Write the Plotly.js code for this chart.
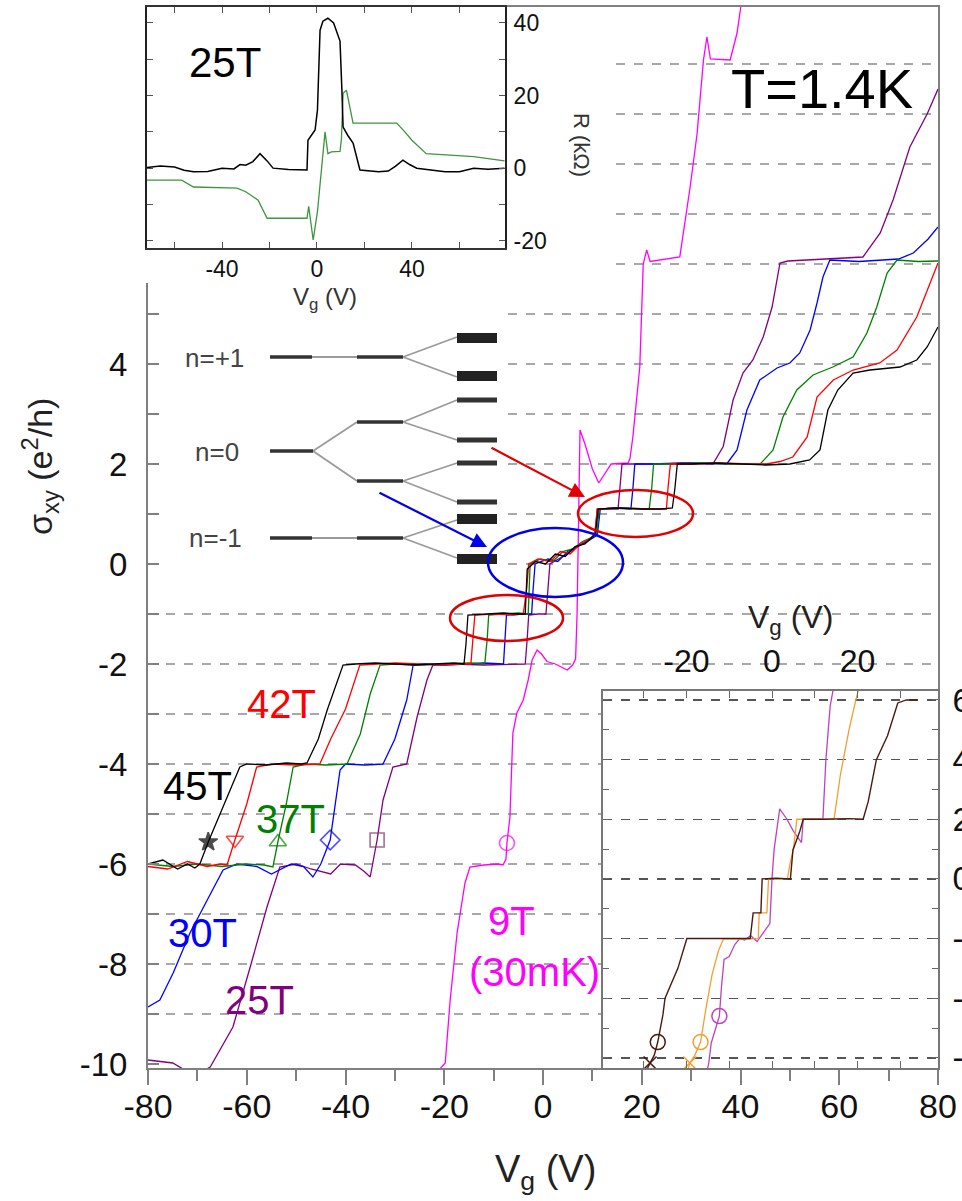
<!DOCTYPE html>
<html><head><meta charset="utf-8">
<script src="https://cdn.plot.ly/plotly-3.0.1.min.js"></script>
<style>html,body{margin:0;padding:0;background:#fff}</style>
</head><body><div id="chart" style="width:962px;height:1201px"></div>
<script>
// ---------------- main panel data: sigma_xy (e^2/h) vs Vg (V) ----------------
const v45 = [-80,-77,-74,-72,-70.5,-69.5,-67.8,-65,-63,-61.4,-60,-56,-52,-49,-47.8,-45.5,-43.7,-42,-40.5,-38,-34,-30,-26,-22,-18,-16,-15.6,-15.2,-12,-8,-5,-3.6,-3.2,-1.5,0.5,2.5,4.5,6.5,8.5,10.0,10.6,11.2,15,20,24,26.2,26.7,27.2,30,35,40,45,50,54,56.1,57.7,59.7,62.8,66.2,70,72.3,75.7,77.8,80];
const s45 = [-6.0,-5.92,-6.1,-6.0,-6.08,-6.0,-5.56,-4.9,-4.4,-4.06,-4.0,-4.02,-3.98,-4.0,-3.98,-3.5,-2.92,-2.45,-2.02,-2.0,-1.98,-2.0,-2.02,-2.0,-1.98,-2.0,-1.6,-1.02,-1.0,-0.98,-1.0,-1.0,-0.1,0.05,0.0,0.2,0.15,0.35,0.4,0.55,0.6,1.1,1.12,1.1,1.1,1.12,1.5,2.0,2.0,2.02,2.0,1.98,2.0,2.08,2.28,3.08,3.48,3.82,3.88,3.92,3.94,4.08,4.34,4.74];
const v42 = [-80,-76,-72,-68,-65.5,-64,-62.4,-60,-58,-55,-50,-46,-45.2,-43,-40,-37.1,-34,-30,-25,-20,-16,-14.6,-14.2,-13.8,-10,-6,-4,-3.3,-2.9,-1,1.5,3.5,5.5,7.5,9.5,10.5,11.0,16,21,25,25.3,25.8,30,36,42,45.3,48,50.6,53.5,55.5,58.8,62.8,68.2,71.7,75.7,78.4,80];
const s42 = [-6.05,-6.1,-5.95,-6.05,-6.0,-6.02,-5.52,-4.8,-4.06,-4.0,-4.02,-4.0,-4.0,-3.5,-2.9,-2.02,-2.0,-1.98,-2.0,-2.02,-2.0,-2.0,-1.5,-1.02,-1.0,-1.02,-1.0,-0.5,0.0,0.1,0.05,0.25,0.2,0.4,0.5,0.6,1.1,1.12,1.1,1.1,1.5,2.0,2.0,2.02,2.0,2.0,2.05,2.14,2.54,3.34,3.68,3.88,4.02,4.28,4.94,5.62,6.02];
const v37 = [-80,-75,-70,-65,-60,-56.5,-54.7,-53.7,-52,-50.6,-48,-44,-39.7,-37,-35,-33,-30,-25,-20,-15,-11.8,-11.3,-11.0,-8,-5,-3.0,-2.6,-0.5,2,4,6,8,10.2,10.9,11.4,15,19,21.5,22,22.4,26,32,38,44,46.6,48.6,51.4,54.7,58.7,62.8,65.6,67.6,69.7,71.7,76,80];
const s37 = [-6.0,-6.05,-6.0,-6.05,-6.0,-6.02,-6.06,-5.56,-4.8,-4.06,-4.0,-4.02,-4.0,-3.4,-2.6,-2.02,-2.0,-2.02,-2.0,-1.98,-2.0,-1.5,-1.02,-1.0,-0.98,-1.0,0.0,0.1,0.05,0.25,0.3,0.45,0.55,0.62,1.1,1.12,1.1,1.1,1.5,2.0,2.0,2.02,2.0,2.0,2.28,2.94,3.48,3.78,3.94,4.14,4.62,5.14,5.82,6.08,6.05,6.06];
const v30 = [-80,-77.6,-74.9,-71.5,-68,-64.8,-62,-58,-55,-53,-51,-48.5,-46.6,-45,-43.1,-41.1,-40,-36,-32.4,-30,-27.6,-26.3,-24,-20,-16,-12,-8.0,-7.7,-7.4,-4,-2.3,-2.0,-1.6,1,3,5,7,9,11,11.6,14,17.8,18.2,18.6,24,30,37.2,39.3,41.3,43.9,47.4,50,52,54.1,55.5,56.7,58.1,64,72,75,78,80];
const s30 = [-8.86,-8.72,-8.18,-7.38,-6.72,-6.12,-6.0,-6.05,-6.2,-6.1,-6.0,-6.05,-6.26,-6.0,-5.52,-4.12,-4.0,-4.02,-4.0,-3.5,-2.72,-2.02,-2.0,-2.02,-2.0,-1.98,-2.0,-1.5,-1.02,-1.0,-1.0,-0.5,0.0,0.1,0.05,0.25,0.35,0.45,0.58,1.1,1.12,1.1,1.5,2.0,2.0,2.02,2.0,2.28,3.08,3.68,3.92,4.02,4.22,4.68,5.22,5.74,6.08,6.05,6.1,6.22,6.5,6.74];
const v25 = [-80,-75,-72.9,-69,-67.4,-62.8,-59.3,-55.9,-53.3,-50,-47,-43,-41,-38,-36.2,-35,-33.6,-32.4,-30.4,-27.6,-25.5,-23.5,-22.3,-18,-12,-6,-3.6,-3.2,-2.9,-1,0.6,1.0,1.4,4,7,9.5,10.5,11,15.2,15.6,16,22,28,34.4,36.5,38.5,40.5,42.5,44.6,46.4,48,49.6,56,64.8,68.3,70.9,74.3,77.8,80];
const s25 = [-9.92,-9.98,-10.1,-10.15,-10.06,-9.26,-8.06,-6.86,-6.06,-6.0,-6.1,-6.2,-6.0,-6.02,-6.15,-6.26,-5.52,-4.72,-4.06,-4.0,-3.06,-2.32,-2.02,-2.0,-2.02,-2.0,-2.0,-1.5,-1.02,-1.0,-1.0,-0.5,0.0,0.15,0.35,0.5,0.6,1.1,1.1,1.5,2.0,2.0,2.02,2.0,2.35,3.28,3.82,4.08,4.54,5.14,6.02,6.06,6.1,6.14,6.62,7.28,8.34,9.0,9.5];
const v9 = [-20.9,-19.8,-18.8,-17.4,-15.8,-14.8,-12,-9,-8.1,-7.5,-7.3,-6.7,-6.1,-5.3,-4,-3,-2.2,-1.2,-0.3,0.8,2.5,4.9,6.0,6.6,6.9,7.1,7.3,7.5,8.5,10,11.3,12.5,13.8,17.2,17.6,18.2,19.6,20.3,21,21.7,27.7,29.8,31.2,32.5,33.2,33.9,37.9,39.3,40,40.5];
const s9 = [-10.1,-9.98,-8.72,-7.38,-6.38,-6.06,-6.02,-6.0,-6.02,-5.9,-5.58,-5.06,-3.38,-2.98,-2.72,-2.32,-1.92,-1.72,-1.8,-1.95,-2.0,-2.12,-2.02,-1.9,-1.0,0.5,2.0,2.68,2.4,1.9,1.62,1.8,2.0,2.02,2.1,2.54,3.94,6.0,6.28,6.05,6.14,7.54,8.6,10.08,10.54,10.1,10.08,10.62,11.1,11.6];
const markV = [-67.8,-62.4,-53.7,-43.1,-33.6,-7.3];
const markS = [-5.56,-5.52,-5.56,-5.52,-5.52,-5.58];
const gridLevels = [-9,-8,-7,-6,-5,-4,-3,-2,-1,0,1,2,3,4,5,6,7,8,9,10];
const yTickVals = [-10,-9,-8,-7,-6,-5,-4,-3,-2,-1,0,1,2,3,4,5,6,7,8,9,10];
const yTickText = ['-10','','-8','','-6','','-4','','-2','','0','','2','','4','','','','','',''];
const xTickVals = [-80,-60,-40,-20,0,20,40,60,80];
const xTickText = ['-80','-60','-40','-20','0','20','40','60','80'];
const xMinorVals = [-70,-50,-30,-10,10,30,50,70];
const curveLabels = ['42T','45T','37T','30T','25T','9T','(30mK)'];
const curveLabelV = [-52.9,-70,-51.2,-69,-57.5,-6.3,-1.8];
const curveLabelS = [-2.8,-4.44,-5.1,-7.38,-8.72,-7.14,-8.16];

// ---------------- top-left inset: R (kOhm) vs Vg at 25T ----------------
const rV1 = [-71.6,-66,-60,-56,-52,-46,-40,-35,-32.4,-30,-27,-24,-21,-18.5,-12,-6,-4.2,-3.8,-0.8,0.2,1.3,2.5,4.6,7,9.7,10.5,11,13,15.2,18.1,22,26,30,33,36.2,39,42,48,54,60,66,72,79];
const rBlack = [0.2,0.6,0.3,-0.6,-1.0,-0.9,0.0,-0.2,1.0,0.8,1.8,4.0,2.0,0.0,-0.4,-0.6,-0.5,7.7,10.5,16,38,40.5,41.3,40,35,21.5,11.3,9,6.9,-0.5,-0.8,-1.0,-0.8,0.5,2.2,1.0,0.0,-0.5,-1.0,-1.0,0.0,-0.3,0.0];
const rV2 = [-71.6,-57,-52,-40,-33.7,-30,-24.8,-21,-10,-4.2,-3.5,-2.8,-1.6,0.2,1.3,2.2,3.4,4.6,6,9.7,10.3,11,12.4,15.2,20,33.6,37,40,46,55,66,79];
const rGreen = [-3.3,-3.3,-5.2,-5.3,-5.5,-6.5,-8.8,-13.8,-13.8,-13.8,-10.5,-13.5,-19.8,-12,-5,1,10,4,4.5,4.6,8,20.6,21.5,12.4,12.4,12.4,10,7.7,4.0,3.6,3.2,2.0];

// ---------------- bottom-right inset ----------------
const iVa = [-30,-28.5,-27.5,-26.7,-25.5,-25,-22,-19.9,-14,-8,-5.1,-4.4,-2.6,-2.3,1,4.3,4.9,6.5,7.3,12,18,21.3,22.5,24.4,27,29.4,31.4,34];
const iSa = [-6.6,-6.17,-5.9,-5.47,-4.56,-4.0,-3.0,-2.0,-2.0,-2.02,-2.0,-1.14,-1.14,0.0,0.02,0.0,0.97,1.6,2.0,2.0,2.02,2.0,2.6,4.0,4.8,5.9,6.0,6.0];
const iVb = [-20,-19.2,-18,-16.7,-15.5,-14,-12.5,-11.3,-8,-5,-3.2,-3.0,-1.2,-0.8,2,3.6,4.2,5,5.5,5.8,10,14.5,16,18,19.6,20.5];
const iSb = [-6.6,-6.17,-5.9,-5.47,-4.4,-3.2,-2.4,-2.0,-2.02,-2.0,-2.0,-1.14,-1.14,0.0,0.0,0.0,0.5,1.0,1.6,2.0,2.0,2.0,3.5,5.0,6.0,6.5];
const iVc = [-15.5,-14.8,-14.2,-12.3,-11.8,-11.2,-10,-8.7,-7.5,-6.4,-5,-3.5,-2,-0.5,0,0.5,1.8,3.5,5,6.9,7.3,9,11.9,12.6,13.6,14.5];
const iSc = [-6.6,-6.2,-5.5,-4.6,-3.6,-2.7,-2.6,-2.2,-2.0,-2.05,-1.9,-2.1,-1.8,-1.5,0.0,1.0,2.35,2.0,1.6,1.22,2.0,2.0,2.0,4.0,5.8,6.5];
const iCircV = [-26.7,-16.7,-12.3];
const iCircS = [-5.47,-5.47,-4.6];
const iCrossV = [-28.5,-19.2];
const iCrossS = [-6.17,-6.17];
const iGrid = [-6,-4,-2,0,2,4,6];

// ---------------- energy level schematic (diagram units) ----------------
const levelSegs = [[270,312,357,357],[357,403,357,357],[270,313,451,451],[357,403,422,422],[357,403,481,481],[270,312,538,538],[357,403,538,538]];
const branchSegs = [[312,357,357,357],[403,457,357,337],[403,457,357,377],[313,357,451,422],[313,357,451,481],[403,457,422,400],[403,457,422,440],[403,457,481,463],[403,457,481,502],[312,357,538,538],[403,457,538,520],[403,457,538,558]];
const barsWide = [[457,497,338],[457,497,376],[457,497,519],[457,497,559]];
const barsNarrow = [[457,497,400],[457,497,440],[457,497,463],[457,497,502]];
const schemLabels = ['n=+1','n=0','n=-1'];
const schemLabelX = [214,217,215];
const schemLabelY = [358,452,538];

// ---------------- build ----------------
const W = 962, H = 1201;
const PX = p => p / W, PY = p => 1 - p / H;
const FONT = 'Liberation Sans, Arial, sans-serif';

function segXY(segs, horiz) {
  const x = [], y = [];
  segs.forEach(s => {
    if (horiz) { x.push(s[0], s[1], null); y.push(s[2], s[2], null); }
    else { x.push(s[0], s[1], null); y.push(s[2], s[3], null); }
  });
  return {x, y};
}

const traces = [];
function line(x, y, color, w, ax) {
  traces.push({x, y, type: 'scatter', mode: 'lines', line: {color, width: w || 1.3},
    xaxis: ax ? 'x' + ax : 'x', yaxis: ax ? 'y' + ax : 'y', hoverinfo: 'skip', cliponaxis: true});
}
// main curves
line(v9, s9, '#ff00ff', 1.3);
line(v25, s25, '#800080', 1.3);
line(v30, s30, '#0000ff', 1.3);
line(v37, s37, '#008000', 1.3);
line(v42, s42, '#ff0000', 1.3);
line(v45, s45, '#000000', 1.3);
traces.push({x: markV, y: markS, type: 'scatter', mode: 'markers', hoverinfo: 'skip',
  marker: {size: [14,15,15,15,14,15],
    symbol: ['star','triangle-down-open','triangle-up-open','diamond-open','square-open','circle-open'],
    color: ['#000000','#ff0000','#008000','#0000ff','#803060','#ff00ff'],
    line: {width: 1.6, color: ['#000000','#ff0000','#008000','#0000ff','#803060','#ff00ff']}}});
// blank cover subplot
traces.push({x: [], y: [], type: 'scatter', mode: 'lines', xaxis: 'x2', yaxis: 'y2'});
// R inset
line(rV2, rGreen, '#3c963c', 1.3, 3);
line(rV1, rBlack, '#000000', 1.5, 3);
// schematic
const b = segXY(branchSegs, false);
traces.push({x: b.x, y: b.y, type: 'scatter', mode: 'lines', line: {color: '#9a9a9a', width: 1.8}, xaxis: 'x4', yaxis: 'y4', hoverinfo: 'skip'});
const l = segXY(levelSegs, false);
traces.push({x: l.x, y: l.y, type: 'scatter', mode: 'lines', line: {color: '#333333', width: 3.5}, xaxis: 'x4', yaxis: 'y4', hoverinfo: 'skip'});
const bw = segXY(barsWide, true);
traces.push({x: bw.x, y: bw.y, type: 'scatter', mode: 'lines', line: {color: '#222222', width: 10}, xaxis: 'x4', yaxis: 'y4', hoverinfo: 'skip'});
const bn = segXY(barsNarrow, true);
traces.push({x: bn.x, y: bn.y, type: 'scatter', mode: 'lines', line: {color: '#333333', width: 5}, xaxis: 'x4', yaxis: 'y4', hoverinfo: 'skip'});
// bottom-right inset
line(iVc, iSc, '#c040c0', 1.3, 5);
line(iVb, iSb, '#f0a030', 1.3, 5);
line(iVa, iSa, '#4a1a10', 1.4, 5);
traces.push({x: iCircV, y: iCircS, type: 'scatter', mode: 'markers', xaxis: 'x5', yaxis: 'y5', hoverinfo: 'skip',
  marker: {size: 15, symbol: 'circle-open', color: ['#4a1a10','#f0a030','#c040c0'], line: {width: 1.5}}});
traces.push({x: iCrossV, y: iCrossS, type: 'scatter', mode: 'markers', xaxis: 'x5', yaxis: 'y5', hoverinfo: 'skip',
  marker: {size: 13, symbol: 'x-thin-open', color: ['#4a1a10','#f0a030'], line: {width: 1.5, color: ['#4a1a10','#f0a030']}}});

const annotations = [];
function note(o) { annotations.push(Object.assign({xanchor: 'center', yanchor: 'middle', showarrow: false}, o)); }
const labelColors = ['#ff0000','#000000','#008000','#0000ff','#800080','#ff00ff','#ff00ff'];
curveLabels.forEach((t, i) => note({x: curveLabelV[i], y: curveLabelS[i], xref: 'x', yref: 'y', text: t,
  font: {family: FONT, size: 40, color: labelColors[i]}}));
note({x: 56.5, y: 9.52, xref: 'x', yref: 'y', text: 'T=1.4K', font: {family: FONT, size: 56, color: '#000'}});
note({x: -38.7, y: 29.2, xref: 'x3', yref: 'y3', text: '25T', font: {family: FONT, size: 42, color: '#000'}});
schemLabels.forEach((t, i) => note({x: schemLabelX[i], y: schemLabelY[i], xref: 'x4', yref: 'y4', text: t,
  font: {family: FONT, size: 26, color: '#444'}}));
// axis titles
note({x: PX(545), y: PY(1172), xref: 'paper', yref: 'paper', text: 'V<sub>g</sub> (V)', font: {family: FONT, size: 38, color: '#222'}});
note({x: PX(40), y: PY(467), xref: 'paper', yref: 'paper', text: 'σ<sub>xy</sub> (e<sup>2</sup>/h)', textangle: -90, font: {family: FONT, size: 34, color: '#222'}});
note({x: PX(325), y: PY(299), xref: 'paper', yref: 'paper', text: 'V<sub>g</sub> (V)', font: {family: FONT, size: 24, color: '#333'}});
note({x: PX(582), y: PY(145), xref: 'paper', yref: 'paper', text: 'R (kΩ)', textangle: 90, font: {family: FONT, size: 22, color: '#333'}});
note({x: PX(790), y: PY(619), xref: 'paper', yref: 'paper', text: 'V<sub>g</sub> (V)', font: {family: FONT, size: 32, color: '#222'}});
// arrows
annotations.push({x: PX(487), y: PY(547), xref: 'paper', yref: 'paper', text: '', showarrow: true, ax: -109, ay: -55,
  arrowcolor: '#0000ee', arrowwidth: 2.2, arrowhead: 2, arrowsize: 1.4});
annotations.push({x: PX(585), y: PY(497), xref: 'paper', yref: 'paper', text: '', showarrow: true, ax: -95, ay: -50,
  arrowcolor: '#e00000', arrowwidth: 2.2, arrowhead: 2, arrowsize: 1.4});

const shapes = [
  {type: 'circle', xref: 'paper', yref: 'paper', x0: PX(450), x1: PX(563), y0: PY(641), y1: PY(595), line: {color: '#e00000', width: 2.5}, layer: 'above'},
  {type: 'circle', xref: 'paper', yref: 'paper', x0: PX(488), x1: PX(623), y0: PY(597), y1: PY(528), line: {color: '#0000ee', width: 2.5}, layer: 'above'},
  {type: 'circle', xref: 'paper', yref: 'paper', x0: PX(578), x1: PX(693), y0: PY(537), y1: PY(490), line: {color: '#e00000', width: 2.5}, layer: 'above'}
];

const tickF = s => ({family: FONT, size: s, color: '#111'});
const layout = {
  width: W, height: H, margin: {l: 0, r: 0, t: 0, b: 0},
  paper_bgcolor: '#ffffff', plot_bgcolor: '#ffffff', showlegend: false,
  xaxis: {domain: [PX(148), PX(938)], range: [-80, 80], anchor: 'y', showgrid: false, zeroline: false,
    showline: true, mirror: true, linecolor: '#808080', linewidth: 2,
    tickmode: 'array', tickvals: xTickVals, ticktext: xTickText, ticks: 'outside', ticklen: 15, tickwidth: 2, tickcolor: '#808080',
    minor: {tickmode: 'array', tickvals: xMinorVals, ticks: 'outside', ticklen: 11, tickwidth: 2, tickcolor: '#808080', showgrid: false},
    tickfont: tickF(34), ticklabelstandoff: -8},
  yaxis: {domain: [PY(1068), PY(7)], range: [-10.08, 11.14], anchor: 'x', showgrid: false, zeroline: false,
    showline: true, mirror: true, linecolor: '#808080', linewidth: 2,
    tickmode: 'array', tickvals: yTickVals, ticktext: yTickText, ticks: 'inside', ticklen: 11, tickwidth: 1.5, tickcolor: '#808080',
    minor: {tickmode: 'array', tickvals: gridLevels, ticks: '', showgrid: true, gridcolor: '#a8a8a8', griddash: 'dash', gridwidth: 1.2},
    tickfont: tickF(33), ticklabelstandoff: 12},
  xaxis2: {domain: [PX(100), PX(612)], range: [0, 1], anchor: 'y2', visible: false},
  yaxis2: {domain: [PY(283), PY(10)], range: [0, 1], anchor: 'x2', visible: false},
  xaxis3: {domain: [PX(147), PX(505)], range: [-71.6, 79.2], anchor: 'y3', showgrid: false, zeroline: false,
    showline: true, mirror: 'ticks', linecolor: '#333', linewidth: 1.6,
    tickmode: 'array', tickvals: [-60,-40,-20,0,20,40,60], ticktext: ['','-40','','0','','40',''], ticks: 'inside', ticklen: 6, tickcolor: '#555',
    tickfont: tickF(23), ticklabelstandoff: 0},
  yaxis3: {domain: [PY(248), PY(7)], range: [-22.0, 44.4], anchor: 'x3', side: 'right', showgrid: false, zeroline: false,
    showline: true, mirror: 'ticks', linecolor: '#222', linewidth: 2,
    tickmode: 'array', tickvals: [-20,-10,0,10,20,30,40], ticktext: ['-20','','0','','20','','40'], ticks: 'inside', ticklen: 6, tickcolor: '#555',
    tickfont: tickF(23), ticklabelstandoff: 2},
  xaxis4: {domain: [PX(162), PX(505)], range: [162, 505], anchor: 'y4', visible: false},
  yaxis4: {domain: [PY(578), PY(288)], range: [578, 288], anchor: 'x4', visible: false},
  xaxis5: {domain: [PX(603), PX(938)], range: [-39.5, 38.8], anchor: 'y5', side: 'top', showgrid: false, zeroline: false,
    showline: true, mirror: 'ticks', linecolor: '#777', linewidth: 2,
    tickmode: 'array', tickvals: [-30,-20,-10,0,10,20,30], ticktext: ['','-20','','0','','20',''], ticks: 'inside', ticklen: 7, tickcolor: '#666',
    tickfont: tickF(32), ticklabelstandoff: 4},
  yaxis5: {domain: [PY(1068), PY(691)], range: [-6.34, 6.3], anchor: 'x5', side: 'right', showgrid: false, zeroline: false,
    showline: true, mirror: 'ticks', linecolor: '#777', linewidth: 2,
    tickmode: 'array', tickvals: [-6,-5,-4,-3,-2,-1,0,1,2,3,4,5,6], ticktext: ['-6','','-4','','-2','','0','','2','','4','','6'],
    ticks: 'inside', ticklen: 6, tickcolor: '#666',
    minor: {tickmode: 'array', tickvals: iGrid, ticks: '', showgrid: true, gridcolor: '#555', griddash: 'dash', gridwidth: 1.4},
    tickfont: tickF(33), ticklabelstandoff: 6},
  annotations, shapes
};
Plotly.newPlot('chart', traces, layout, {staticPlot: true, displayModeBar: false});
</script></body></html>
